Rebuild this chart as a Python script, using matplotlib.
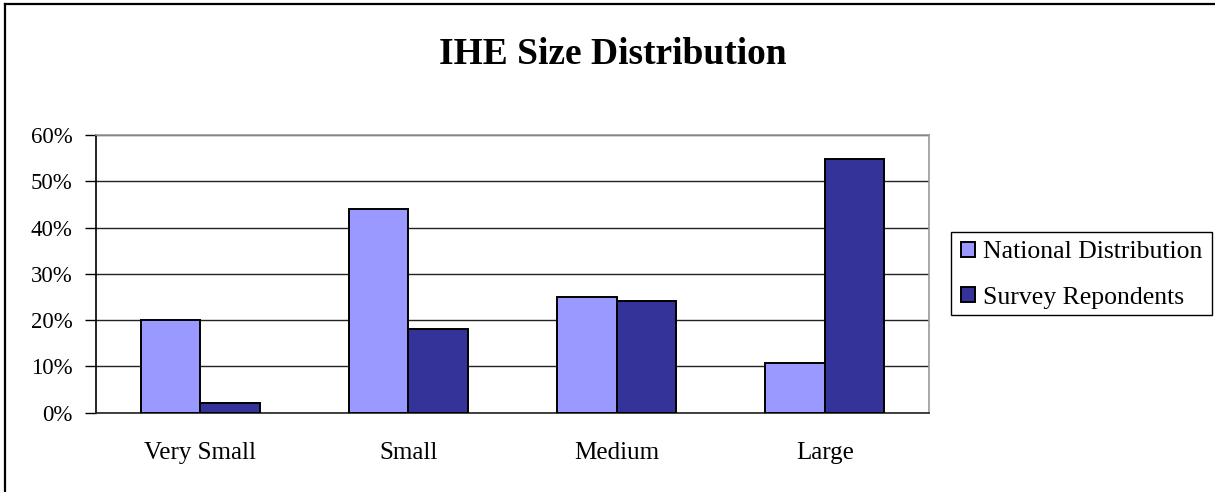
import matplotlib
matplotlib.use("Agg")
import matplotlib.pyplot as plt
import numpy as np
from matplotlib.lines import Line2D
from matplotlib.patches import Rectangle
from matplotlib.ticker import FuncFormatter

categories = ["Very Small", "Small", "Medium", "Large"]
national = [20.0, 44.0, 25.0, 10.8]
survey = [2.2, 18.1, 24.1, 54.8]
series_names = ["National Distribution", "Survey Repondents"]
title = "IHE Size Distribution"

W, H = 1215, 492
fig = plt.figure(figsize=(W / 100, H / 100), dpi=100)
fig.patch.set_facecolor("white")

serif = ["Liberation Serif", "DejaVu Serif"]

ax = fig.add_axes([96 / W, 1 - 412.7 / H, (929 - 96) / W, (412.7 - 135) / H])

x = np.arange(len(categories))
w = 1 / 3.5
ax.bar(x - w / 2, national, width=w, color="#9999FF", edgecolor="black",
       linewidth=1.4, label=series_names[0], zorder=3)
ax.bar(x + w / 2, survey, width=w, color="#333399", edgecolor="black",
       linewidth=1.4, label=series_names[1], zorder=3)

ax.set_xlim(-0.5, len(categories) - 0.5)
ax.set_ylim(0, 60)
ax.set_yticks(np.arange(0, 61, 10))
ax.yaxis.set_major_formatter(FuncFormatter(lambda v, p: f"{v:.0f}%"))
ax.set_xticks(x)
ax.set_xticklabels(categories)

ax.yaxis.grid(True, color="#222222", linewidth=1.0, zorder=0)
ax.set_axisbelow(True)

for side in ["top", "right"]:
    ax.spines[side].set_color("#999999")
    ax.spines[side].set_linewidth(1.2)
ax.spines["left"].set_color("black")
ax.spines["left"].set_linewidth(1.2)
ax.spines["bottom"].set_color("#222222")
ax.spines["bottom"].set_linewidth(1.2)

ax.tick_params(axis="y", length=8, width=1.0, pad=9, labelsize=16.5)
ax.tick_params(axis="x", length=0, pad=21, labelsize=18)
for lab in ax.get_xticklabels() + ax.get_yticklabels():
    lab.set_family(serif)

# legend entries, with a separately drawn box around them
leg = fig.legend(loc="center left", bbox_to_anchor=(961 / W, 1 - 275 / H),
                 prop={"family": serif, "size": 18.5}, frameon=False,
                 borderpad=0, handlelength=0.55, handleheight=0.55,
                 handletextpad=0.31, labelspacing=0.9, borderaxespad=0)
fig.add_artist(Rectangle((951 / W, 1 - 315 / H), 261 / W, 83 / H,
                         transform=fig.transFigure, fill=False,
                         edgecolor="black", linewidth=1.0))

fig.text(613 / W, 1 - 55 / H, title, ha="center", va="center",
         family=serif, fontsize=27, fontweight="bold")

# outer chart frame (top and left edges)
fig.add_artist(Line2D([4.5 / W, 4.5 / W], [0, 1 - 3.5 / H],
                      transform=fig.transFigure, color="black", linewidth=1.6))
fig.add_artist(Line2D([4.5 / W, 1], [1 - 3.5 / H, 1 - 3.5 / H],
                      transform=fig.transFigure, color="black", linewidth=1.6))

fig.savefig("out.png", dpi=100)
